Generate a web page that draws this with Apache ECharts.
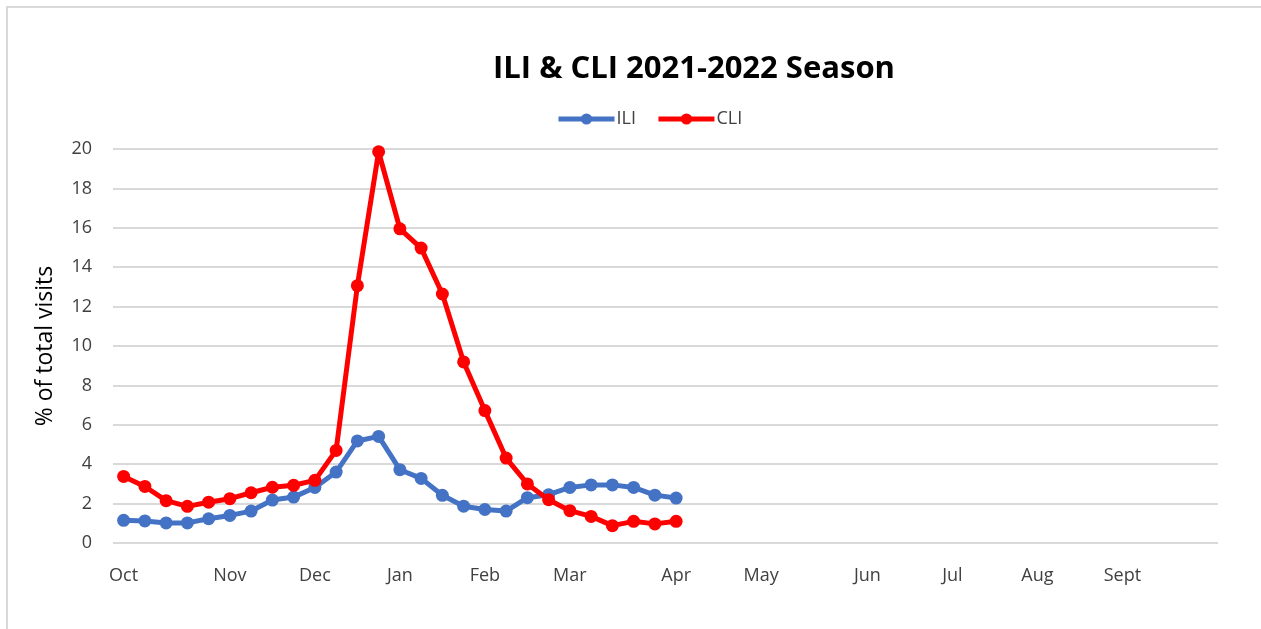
<!DOCTYPE html>
<html>
<head>
<meta charset="utf-8">
<script src="https://cdn.jsdelivr.net/npm/echarts@6/dist/echarts.min.js"></script>
<style>
  html, body { margin: 0; padding: 0; background: #fff; overflow: hidden; }
  #frame { position: absolute; left: 6px; top: 6px; width: 1400px; height: 800px; border: 2px solid #d9d9d9; box-sizing: border-box; }
  #chart { position: absolute; left: 0; top: 0; width: 1261px; height: 629px; }
</style>
</head>
<body>
<div id="frame"></div>
<div id="chart"></div>
<script>
// Week categories (52 weeks, Oct -> Sept); month names mark the tick labels
const weekLabels = [
  'Oct','','','','',
  'Nov','','','',
  'Dec','','','',
  'Jan','','','',
  'Feb','','','',
  'Mar','','','','',
  'Apr','','','',
  'May','','','','',
  'Jun','','','',
  'Jul','','','',
  'Aug','','','',
  'Sept','','','',''
];
const weekIds = weekLabels.map((m, i) => 'W' + (i + 1));

const iliValues = [1.15, 1.12, 1.02, 1.02, 1.23, 1.40, 1.62, 2.18, 2.33, 2.82, 3.60, 5.18, 5.41, 3.72, 3.28, 2.42, 1.87, 1.70, 1.62, 2.30, 2.45, 2.82, 2.95, 2.95, 2.82, 2.43, 2.28];
const cliValues = [3.38, 2.87, 2.15, 1.86, 2.07, 2.25, 2.55, 2.83, 2.93, 3.18, 4.70, 13.06, 19.86, 15.95, 14.97, 12.64, 9.19, 6.72, 4.31, 3.00, 2.20, 1.64, 1.35, 0.88, 1.10, 0.97, 1.10];

const yTicks = { min: 0, max: 20, interval: 2 };

const FONT = '"Open Sans", Lato, sans-serif';
const chart = echarts.init(document.getElementById('chart'), null, { renderer: 'canvas' });
chart.setOption({
  backgroundColor: 'transparent',
  animation: false,
  title: {
    text: 'ILI & CLI 2021-2022 Season',
    left: 689,
    textAlign: 'center',
    top: 49,
    textStyle: { fontFamily: FONT, fontSize: 31, fontWeight: 'bold', color: '#000' }
  },
  legend: {
    top: 105,
    left: 551,
    itemWidth: 56,
    itemHeight: 14,
    itemGap: 20,
    lineStyle: { width: 5 },
    textStyle: { fontFamily: FONT, fontSize: 18, color: '#404040', padding: [0, 0, 0, -3] },
    data: ['ILI', 'CLI']
  },
  grid: { left: 113, right: 43, top: 149, bottom: 86 },
  xAxis: {
    type: 'category',
    data: weekIds,
    boundaryGap: true,
    axisLine: { show: false },
    axisTick: { show: false },
    axisLabel: {
      interval: 0,
      margin: 24,
      fontFamily: FONT,
      fontSize: 18,
      color: '#404040',
      formatter: (v, i) => weekLabels[i]
    },
    splitLine: { show: false }
  },
  yAxis: {
    type: 'value',
    min: yTicks.min,
    max: yTicks.max,
    interval: yTicks.interval,
    name: '% of total visits',
    nameLocation: 'middle',
    nameRotate: 90,
    nameGap: 56,
    nameTextStyle: { fontFamily: FONT, fontSize: 23, color: '#000' },
    axisLine: { show: false },
    axisTick: { show: false },
    axisLabel: { margin: 21, fontFamily: FONT, fontSize: 18, color: '#404040' },
    splitLine: { lineStyle: { color: '#d9d9d9', width: 2 } }
  },
  series: [
    {
      name: 'ILI',
      type: 'line',
      data: iliValues,
      color: '#4472C4',
      symbol: 'circle',
      symbolSize: 13,
      lineStyle: { width: 5, color: '#4472C4' },
      itemStyle: { color: '#4472C4' },
      z: 2
    },
    {
      name: 'CLI',
      type: 'line',
      data: cliValues,
      color: '#FF0000',
      symbol: 'circle',
      symbolSize: 13,
      lineStyle: { width: 5, color: '#FF0000' },
      itemStyle: { color: '#FF0000' },
      z: 3
    }
  ]
});
</script>
</body>
</html>
